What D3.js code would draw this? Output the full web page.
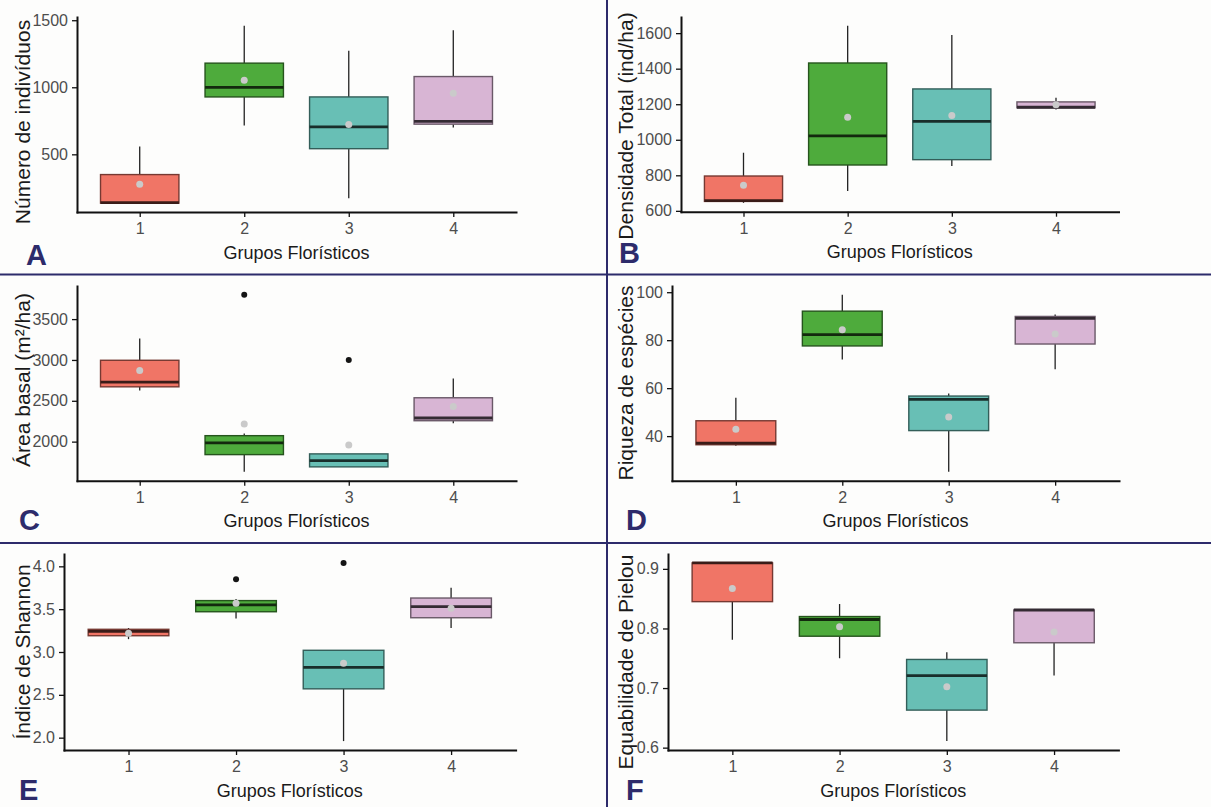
<!DOCTYPE html>
<html>
<head>
<meta charset="utf-8">
<script src="https://cdn.jsdelivr.net/npm/d3@7/dist/d3.min.js"></script>
<style>
  body { margin: 0; background: #fdfdfc; }
  svg { display: block; font-family: "Liberation Sans", Arial, sans-serif; }
</style>
</head>
<body>
<svg id="chart" width="1211" height="807"></svg>
<script>
// groups on the x axis
const groups = ["1", "2", "3", "4"];

// box stats per group: [min, q1, median, q3, max]
const individuos = [[136, 136, 140, 349, 559], [715, 928, 1000, 1180, 1458], [173, 542, 705, 928, 1273], [700, 725, 745, 1080, 1426]];
const individuosMean = [277, 1052, 722, 955];
const individuosOut = [[], [], [], []];

const densidade = [[645, 653, 658, 796, 927], [712, 858, 1022, 1432, 1641], [852, 888, 1104, 1286, 1590], [1170, 1180, 1183, 1213, 1236]];
const densidadeMean = [744, 1127, 1136, 1197];
const densidadeOut = [[], [], [], []];

const areaBasal = [[2626, 2671, 2728, 2996, 3264], [1630, 1841, 1984, 2073, 2100], [1691, 1691, 1768, 1850, 1850], [2224, 2256, 2289, 2537, 2772]];
const areaBasalMean = [2870, 2215, 1959, 2431];
const areaBasalOut = [[], [3797], [3000], []];

const riqueza = [[36, 36.4, 37.1, 46.4, 56], [71.9, 77.6, 82.3, 92.1, 98.9], [25.1, 42.3, 55.3, 56.7, 57.8], [67.9, 78.4, 89.1, 89.9, 90.7]];
const riquezaMean = [42.9, 84.4, 48, 82.6];
const riquezaOut = [[], [], [], []];

const shannon = [[3.15, 3.19, 3.24, 3.265, 3.28], [3.39, 3.47, 3.55, 3.6, 3.62], [1.96, 2.57, 2.82, 3.02, 3.02], [3.28, 3.4, 3.53, 3.63, 3.75]];
const shannonMean = [3.22, 3.57, 2.87, 3.51];
const shannonOut = [[], [3.85], [4.04], []];

const pielou = [[0.781, 0.845, 0.91, 0.91, 0.91], [0.75, 0.787, 0.815, 0.82, 0.841], [0.611, 0.663, 0.721, 0.748, 0.76], [0.721, 0.776, 0.831, 0.831, 0.831]];
const pielouMean = [0.867, 0.803, 0.702, 0.794];
const pielouOut = [[], [], [], []];

// axis labels and ticks
const yTitles = ["Número de indivíduos", "Densidade Total (ind/ha)", "Área basal (m²/ha)", "Riqueza de espécies", "Índice de Shannon", "Equabilidade de Pielou"];
const xTitle = "Grupos Florísticos";
const panelLetters = ["A", "B", "C", "D", "E", "F"];
const ticksA = [500, 1000, 1500];
const ticksB = [600, 800, 1000, 1200, 1400, 1600];
const ticksC = [2000, 2500, 3000, 3500];
const ticksD = [40, 60, 80, 100];
const ticksE = [2.0, 2.5, 3.0, 3.5, 4.0];
const ticksF = [0.6, 0.7, 0.8, 0.9];

// styles
const fills = ["#F07566", "#4EAB3C", "#68BFB5", "#D8B5D4"];
const navy = "#2d2b6b";

// panel placement (plot area + titles)
const layout = [
  { x0: 77, x1: 516, top: 17, bot: 212, tx: 29.5, ty: 122, lx: 26, ly: 265 },
  { x0: 681, x1: 1118.5, top: 17, bot: 211.7, tx: 633, ty: 126, lx: 619, ly: 263 },
  { x0: 77, x1: 516, top: 286, bot: 480.7, tx: 30, ty: 380, lx: 19, ly: 530 },
  { x0: 672, x1: 1119, top: 286, bot: 480.7, tx: 633, ty: 383, lx: 626, ly: 530 },
  { x0: 64, x1: 515.6, top: 554, bot: 750, tx: 30, ty: 652, lx: 19, ly: 800 },
  { x0: 668, x1: 1118.4, top: 554, bot: 750, tx: 633, ty: 662, lx: 626, ly: 800 }
];

const panels = [
  { stats: individuos, means: individuosMean, outs: individuosOut, ticks: ticksA, fmt: d3.format("d") },
  { stats: densidade, means: densidadeMean, outs: densidadeOut, ticks: ticksB, fmt: d3.format("d") },
  { stats: areaBasal, means: areaBasalMean, outs: areaBasalOut, ticks: ticksC, fmt: d3.format("d") },
  { stats: riqueza, means: riquezaMean, outs: riquezaOut, ticks: ticksD, fmt: d3.format("d") },
  { stats: shannon, means: shannonMean, outs: shannonOut, ticks: ticksE, fmt: d3.format(".1f") },
  { stats: pielou, means: pielouMean, outs: pielouOut, ticks: ticksF, fmt: d3.format(".1f") }
];

const svg = d3.select("#chart");
svg.append("rect").attr("width", 1211).attr("height", 807).attr("fill", "#fdfdfc");

panels.forEach((p, i) => {
  const L = layout[i];
  const g = svg.append("g");

  // y domain like ggplot: data range + 5%
  const all = p.stats.flat().concat(p.outs.flat());
  const lo = d3.min(all), hi = d3.max(all);
  const pad = (hi - lo) * 0.05;
  const y = d3.scaleLinear().domain([lo - pad, hi + pad]).range([L.bot, L.top]);
  const x = d3.scalePoint().domain(groups).range([L.x0, L.x1]).padding(0.6);
  const bw = x.step() * 0.75;

  const box = g.selectAll("g.box").data(p.stats).enter().append("g").attr("class", "box");
  // whiskers
  box.append("line")
    .attr("x1", (d, j) => x(groups[j])).attr("x2", (d, j) => x(groups[j]))
    .attr("y1", d => y(d[4])).attr("y2", d => y(d[3]))
    .attr("stroke", "#222").attr("stroke-width", 1.3);
  box.append("line")
    .attr("x1", (d, j) => x(groups[j])).attr("x2", (d, j) => x(groups[j]))
    .attr("y1", d => y(d[1])).attr("y2", d => y(d[0]))
    .attr("stroke", "#222").attr("stroke-width", 1.3);
  // box
  box.append("rect")
    .attr("x", (d, j) => x(groups[j]) - bw / 2)
    .attr("width", bw)
    .attr("y", d => y(d[3]))
    .attr("height", d => Math.max(1, y(d[1]) - y(d[3])))
    .attr("fill", (d, j) => fills[j])
    .attr("stroke", (d, j) => d3.color(fills[j]).darker(2))
    .attr("stroke-width", 1.4);
  // median
  box.append("line")
    .attr("x1", (d, j) => x(groups[j]) - bw / 2)
    .attr("x2", (d, j) => x(groups[j]) + bw / 2)
    .attr("y1", d => y(d[2])).attr("y2", d => y(d[2]))
    .attr("stroke", (d, j) => d3.color(fills[j]).darker(4))
    .attr("stroke-width", 2.8);

  // outliers
  p.outs.forEach((vals, j) => {
    g.selectAll(null).data(vals).enter().append("circle")
      .attr("cx", x(groups[j])).attr("cy", v => y(v)).attr("r", 3)
      .attr("fill", "#141414");
  });
  // means
  g.selectAll("circle.mean").data(p.means).enter().append("circle")
    .attr("class", "mean")
    .attr("cx", (d, j) => x(groups[j])).attr("cy", d => y(d)).attr("r", 3.5)
    .attr("fill", "#cacaca");

  // axes
  const ya = g.append("g").attr("transform", `translate(${L.x0},0)`)
    .call(d3.axisLeft(y).tickValues(p.ticks).tickFormat(p.fmt).tickSize(5).tickSizeOuter(0).tickPadding(4));
  const xa = g.append("g").attr("transform", `translate(0,${L.bot})`)
    .call(d3.axisBottom(x).tickSize(5).tickSizeOuter(0).tickPadding(6));
  [ya, xa].forEach(a => {
    a.attr("font-size", 16).attr("font-family", "'Liberation Sans', Arial, sans-serif");
    a.select(".domain").attr("stroke", "#111").attr("stroke-width", 2).attr("stroke-linecap", "square");
    a.selectAll(".tick line").attr("stroke", "#111").attr("stroke-width", 1.3);
    a.selectAll(".tick text").attr("fill", "#4d4d4d").style("font-size", "16px");
  });

  // titles
  g.append("text")
    .attr("transform", `translate(${L.tx},${L.ty}) rotate(-90)`)
    .attr("text-anchor", "middle")
    .style("font-size", "21px").attr("fill", "#1a1a1a")
    .text(yTitles[i]);
  g.append("text")
    .attr("x", (L.x0 + L.x1) / 2).attr("y", L.bot + 46.5)
    .attr("text-anchor", "middle")
    .style("font-size", "18px").attr("fill", "#1a1a1a")
    .text(xTitle);
  g.append("text")
    .attr("x", L.lx).attr("y", L.ly)
    .style("font-size", "29px").style("font-weight", "bold").attr("fill", navy)
    .text(panelLetters[i]);
});

// separators between panels
svg.append("line").attr("x1", 607).attr("x2", 607).attr("y1", 0).attr("y2", 807)
  .attr("stroke", navy).attr("stroke-width", 2);
[274.5, 543].forEach(yy => {
  svg.append("line").attr("x1", 0).attr("x2", 1211).attr("y1", yy).attr("y2", yy)
    .attr("stroke", navy).attr("stroke-width", 2);
});
</script>
</body>
</html>
